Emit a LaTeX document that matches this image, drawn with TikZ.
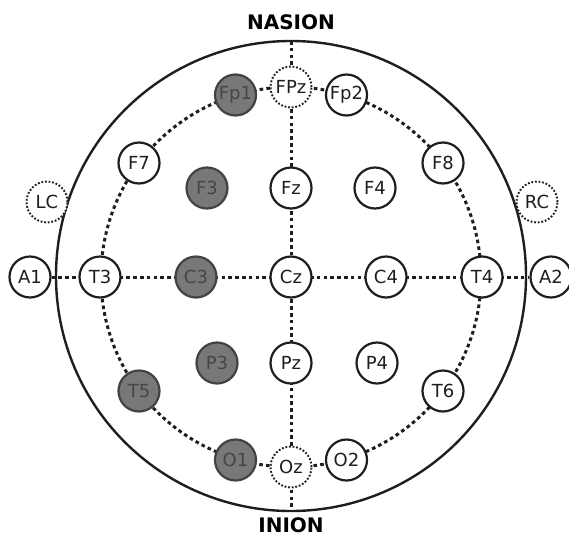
\documentclass[tikz,border=0pt]{standalone}
\usepackage{fontspec}
\setmainfont{DejaVu Sans}
\usetikzlibrary{backgrounds}
\definecolor{elecgray}{RGB}{120,120,120}
\definecolor{elecdark}{RGB}{30,30,30}
\definecolor{graytext}{RGB}{70,70,70}
\begin{document}
\begin{tikzpicture}[x=1pt,y=-1pt,
  electrode/.style={circle, draw=elecdark, line width=2.2pt, fill=white,
    minimum size=41pt, inner sep=0pt, font=\fontsize{18}{20}\selectfont, text=elecdark},
  active/.style={electrode, fill=elecgray, text=graytext, draw=elecgray!55!black},
  refnode/.style={electrode, dash pattern=on 1.8pt off 1.8pt, line width=1.9pt},
  link/.style={line width=3.0pt, dash pattern=on 3.6pt off 3.2pt, draw=elecdark},
  headline/.style={line width=2.4pt, draw=elecdark},
  headlabel/.style={font=\bfseries\fontsize{20}{22}\selectfont, text=black}]
\useasboundingbox (0,0) rectangle (569,538);
% head centre and midline ends
\coordinate (head) at (291,276);
\coordinate (nas) at (291,41);
\coordinate (ini) at (291,511);
% labels
\node[headlabel] (nasion) at (291,22) {NASION};
\node[headlabel] (inion) at (291,525) {INION};
% ring electrodes
\node[refnode] (FPz) at (291,87) {FPz};
\node[active] (Fp1) at (235.5,95) {Fp1};
\node[electrode] (Fp2) at (346.5,95) {Fp2};
\node[electrode] (F7) at (139,163) {F7};
\node[electrode] (F8) at (443,163) {F8};
\node[electrode] (T3) at (100,277) {T3};
\node[electrode] (T4) at (482,277) {T4};
\node[active] (T5) at (139,391) {T5};
\node[electrode] (T6) at (443,391) {T6};
\node[active] (O1) at (235.5,460) {O1};
\node[refnode] (Oz) at (291,467) {Oz};
\node[electrode] (O2) at (346.5,460) {O2};
% inner electrodes
\node[active] (F3) at (207,188) {F3};
\node[electrode] (Fz) at (291,188) {Fz};
\node[electrode] (F4) at (375,188) {F4};
\node[active] (C3) at (196,277) {C3};
\node[electrode] (Cz) at (291,277) {Cz};
\node[electrode] (C4) at (386,277) {C4};
\node[active] (P3) at (217,363) {P3};
\node[electrode] (Pz) at (291,363) {Pz};
\node[electrode] (P4) at (377,363) {P4};
% outer
\node[electrode] (A1) at (30,277) {A1};
\node[electrode] (A2) at (551,277) {A2};
\node[refnode] (LC) at (47,202) {LC};
\node[refnode] (RC) at (537,202) {RC};
\begin{scope}[on background layer]
  \draw[headline] (head) circle[radius=235pt];
  \draw[link] (Cz) circle[radius=190pt];
  \draw[link] (nas) -- (ini);
  \draw[link] (A1) -- (A2);
\end{scope}
\end{tikzpicture}
\end{document}
